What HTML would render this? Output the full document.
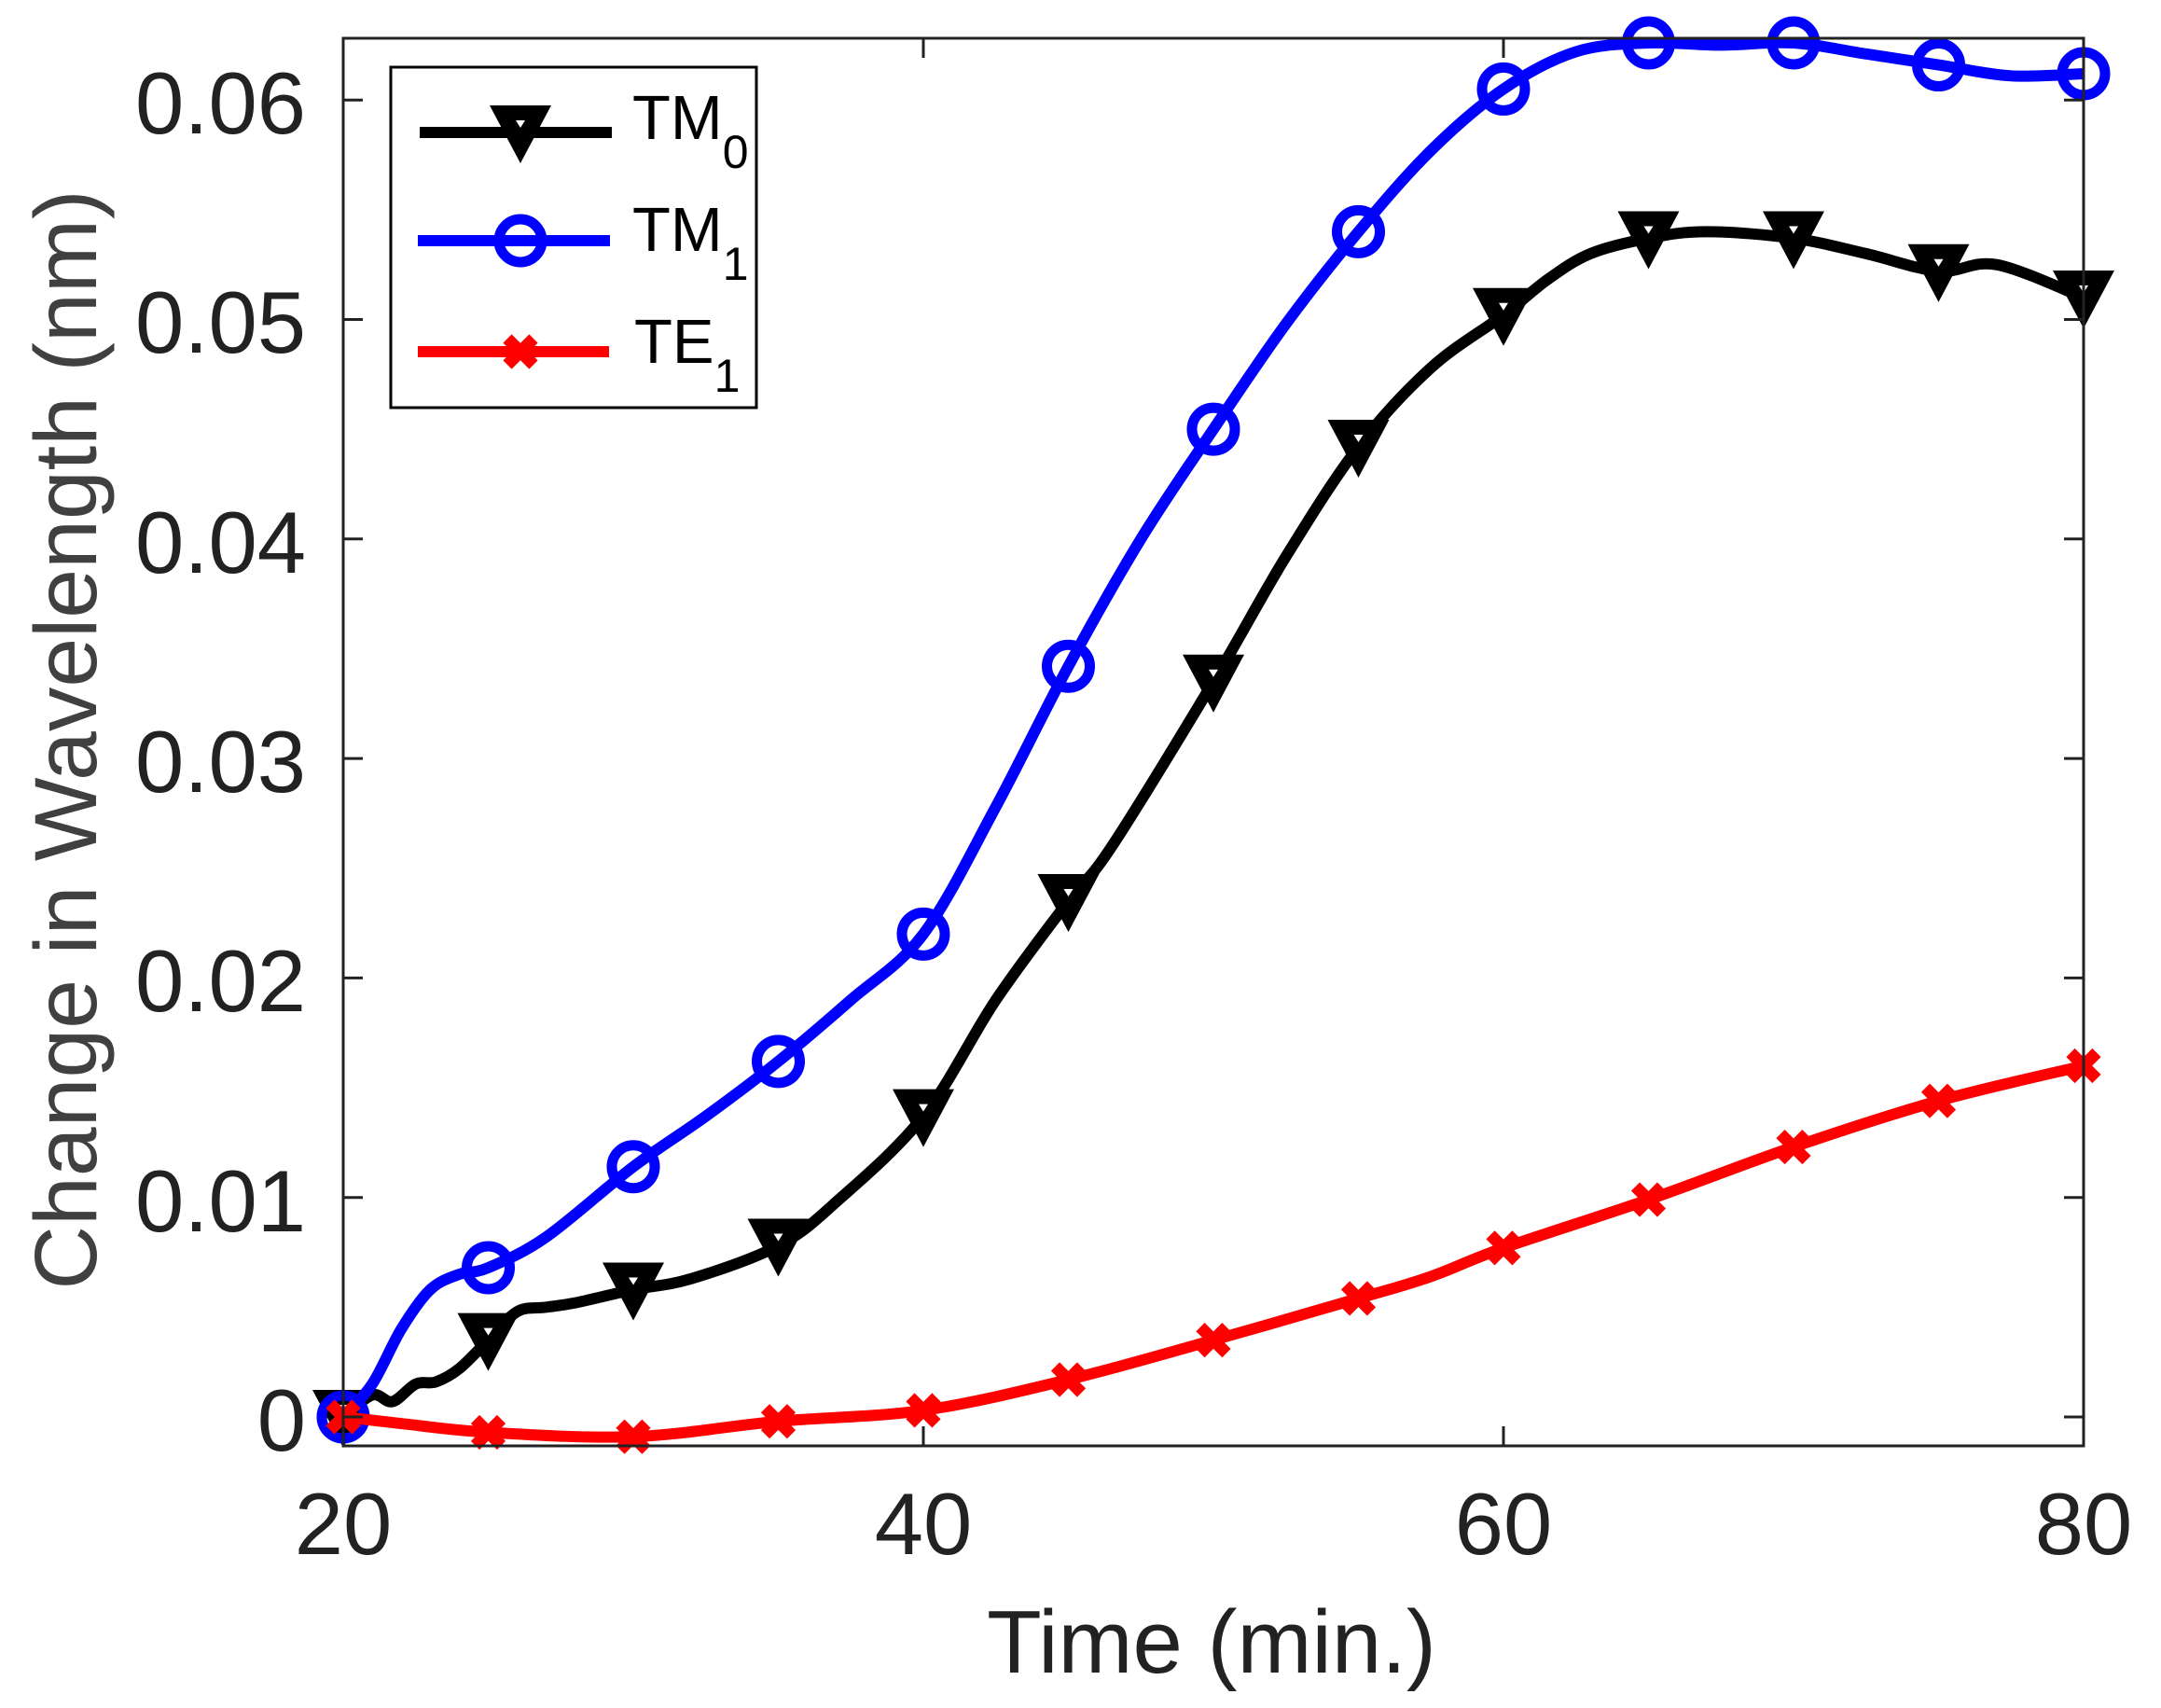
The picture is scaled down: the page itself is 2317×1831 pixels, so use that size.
<!DOCTYPE html>
<html><head><meta charset="utf-8"><style>
html,body{margin:0;padding:0;background:#fff;}
svg{display:block;font-family:"Liberation Sans",Arial,sans-serif;}
</style></head><body>
<svg id="s" width="2317" height="1831" viewBox="0 0 2317 1831" xmlns="http://www.w3.org/2000/svg">
<rect width="2317" height="1831" fill="#fff"/>
<g id="plot"></g>
<rect x="368" y="41" width="1866" height="1509" fill="none" stroke="#222" stroke-width="3"/>
<g id="ticks" stroke="#222" stroke-width="3"></g>
<g fill="#222" font-size="94" text-anchor="end">
<text x="328" y="143">0.06</text>
<text x="328" y="378">0.05</text>
<text x="328" y="614">0.04</text>
<text x="328" y="849">0.03</text>
<text x="328" y="1084">0.02</text>
<text x="328" y="1320">0.01</text>
<text x="328" y="1555">0</text>
</g>
<g fill="#222" font-size="94" text-anchor="middle">
<text x="368" y="1666">20</text>
<text x="990" y="1666">40</text>
<text x="1612" y="1666">60</text>
<text x="2234" y="1666">80</text>
<text x="1299" y="1793" font-size="96">Time (min.)</text>
</g>
<text transform="translate(103,793) rotate(-90)" font-size="95" fill="#404040" text-anchor="middle">Change in Wavelength (nm)</text>
<rect x="419" y="72" width="392" height="365" fill="#fff" stroke="#000" stroke-width="3"/>
<g id="leg"></g>
<g font-size="67" fill="#000">
<text x="678" y="149">TM<tspan font-size="50" dy="31">0</tspan></text>
<text x="678" y="269">TM<tspan font-size="50" dy="31">1</tspan></text>
<text x="680" y="389">TE<tspan font-size="50" dy="31">1</tspan></text>
</g>
</svg>
<script>
const NS="http://www.w3.org/2000/svg";
const X=t=>368+(t-20)*31.1, Y=v=>1519-v*23530;
function el(tag,attrs,parent){const e=document.createElementNS(NS,tag);for(const k in attrs)e.setAttribute(k,attrs[k]);parent.appendChild(e);return e;}
const tk=document.getElementById('ticks');
[20,40,60,80].forEach(t=>{const x=X(t);el('line',{x1:x,y1:1550,x2:x,y2:1529},tk);el('line',{x1:x,y1:41,x2:x,y2:62},tk);});
for(let i=0;i<=6;i++){const y=Y(i*0.01);el('line',{x1:368,y1:y,x2:389,y2:y},tk);el('line',{x1:2234,y1:y,x2:2213,y2:y},tk);}
function cr(pts){let d=`M${pts[0][0]},${pts[0][1]}`;for(let i=0;i<pts.length-1;i++){const p0=pts[Math.max(0,i-1)],p1=pts[i],p2=pts[i+1],p3=pts[Math.min(pts.length-1,i+2)];
d+=` C${p1[0]+(p2[0]-p0[0])/6},${p1[1]+(p2[1]-p0[1])/6} ${p2[0]-(p3[0]-p1[0])/6},${p2[1]-(p3[1]-p1[1])/6} ${p2[0]},${p2[1]}`;}return d;}
const tm1=[[20,0],[21,0.0015],[22,0.004],[23,0.0058],[24,0.0065],[25,0.0068],[27,0.0082],[30,0.0114],[32.5,0.0137],[35,0.0162],[37.5,0.019],[40,0.022],[42.5,0.0278],[45,0.0342],[47.5,0.040],[50,0.045],[52.5,0.0498],[55,0.054],[57.5,0.0577],[60,0.0605],[62.5,0.0622],[65,0.0626],[67.5,0.0625],[70,0.0626],[72.5,0.0621],[75,0.0616],[77.5,0.0611],[80,0.0612]];
const tm0=[[20,0],[21,0.001],[21.7,0.0007],[22.5,0.0015],[23.2,0.0016],[24,0.0022],[25,0.0035],[26,0.0048],[27,0.005],[28,0.0052],[30,0.0058],[32,0.0063],[35,0.0078],[37,0.0098],[40,0.0137],[42.5,0.019],[45,0.0235],[46.5,0.026],[50,0.0335],[52.5,0.0392],[55,0.0442],[57.5,0.0478],[60,0.0502],[61.5,0.0518],[63,0.053],[65,0.0537],[67,0.054],[70,0.0537],[72.5,0.053],[75,0.0522],[77,0.0525],[80,0.051]];
const te1=[[20,0],[22,-0.0003],[25,-0.0007],[30,-0.0009],[35,-0.0002],[40,0.0003],[45,0.0017],[50,0.0035],[55,0.0054],[57.5,0.0064],[60,0.0077],[65,0.0099],[70,0.0123],[75,0.0144],[80,0.016]];
const P=document.getElementById('plot');
const conv=a=>a.map(p=>[X(p[0]),Y(p[1])]);
function tri(x,y,g){el('path',{d:`M${x-33},${y-29} L${x+33},${y-29} L${x},${y+33} Z`,fill:'#000'},g);el('path',{d:`M${x-5},${y-13} L${x+5},${y-13} L${x},${y-5} Z`,fill:'#fff'},g);}
function circ(x,y,g){el('circle',{cx:x,cy:y,r:23,fill:'none',stroke:'#00f','stroke-width':11},g);}
function cross(x,y,g){el('path',{d:`M${x-14},${y-14} L${x+14},${y+14} M${x+14},${y-14} L${x-14},${y+14}`,stroke:'#f00','stroke-width':13},g);}
function series(data,col,mk){el('path',{d:cr(conv(data)),fill:'none',stroke:col,'stroke-width':12,'stroke-linejoin':'round'},P);
data.forEach(p=>{if(p[0]%5===0)mk(X(p[0]),Y(p[1]),P);});}
series(tm0,'#000',tri);series(tm1,'#00f',circ);series(te1,'#f00',cross);
const L=document.getElementById('leg');
el('line',{x1:450,y1:142,x2:656,y2:142,stroke:'#000','stroke-width':12},L);tri(558,142,L);
el('line',{x1:448,y1:258,x2:654,y2:258,stroke:'#00f','stroke-width':12},L);circ(558,258,L);
el('line',{x1:448,y1:377,x2:653,y2:377,stroke:'#f00','stroke-width':12},L);cross(558,377,L);
</script>
</body></html>
